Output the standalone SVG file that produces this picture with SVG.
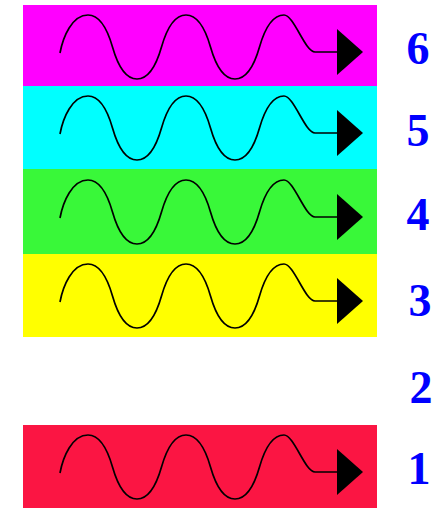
<svg xmlns="http://www.w3.org/2000/svg" xmlns:xlink="http://www.w3.org/1999/xlink" width="445" height="508" viewBox="0 0 445 508">
<style>
.wave{fill:none;stroke:#000;stroke-width:1.7;stroke-linejoin:round}
.head{fill:#000;stroke:none}
.num{font-family:"Liberation Serif","Times New Roman",serif;font-weight:bold;font-size:46px;fill:#0000ff;text-anchor:middle}
</style>
<defs>
<g id="signal">
<path class="wave" d="M60,48 C63,32 72,10 88,10 C99.5,10 107.5,24.5 112.5,42 C117.5,59.5 125.5,74 137,74 C148.5,74 156.5,59.5 161.5,42 C166.5,24.5 174.5,10 186,10 C197.5,10 205.5,24.5 210.5,42 C215.5,59.5 223.5,74 235,74 C246.5,74 254.5,59.5 259.5,42 C264.5,24.5 272.5,10 284,10 C294,10 305,47 315,47 L338,47"/>
<polygon class="head" points="337,24 337,70 363,47"/>
</g>
</defs>
<rect width="445" height="508" fill="#fff"/>
<g id="band6">
<rect x="23" y="5" width="354" height="81" fill="#ff00ff"/>
<use xlink:href="#signal" transform="translate(0,5)"/>
<text class="num" x="418" y="64">6</text>
</g>
<g id="band5">
<rect x="23" y="86" width="354" height="83" fill="#00ffff"/>
<use xlink:href="#signal" transform="translate(0,86)"/>
<text class="num" x="418" y="146">5</text>
</g>
<g id="band4">
<rect x="23" y="169" width="354" height="85" fill="#39f839"/>
<use xlink:href="#signal" transform="translate(0,170)"/>
<text class="num" x="418" y="230">4</text>
</g>
<g id="band3">
<rect x="23" y="254" width="354" height="83" fill="#ffff00"/>
<use xlink:href="#signal" transform="translate(0,254)"/>
<text class="num" x="420" y="316">3</text>
</g>
<g id="band2">
<text class="num" x="421" y="403">2</text>
</g>
<g id="band1">
<rect x="23" y="425" width="354" height="83" fill="#fb1543"/>
<use xlink:href="#signal" transform="translate(0,425)"/>
<text class="num" x="419" y="484">1</text>
</g>
<g id="connectors"/>
</svg>
